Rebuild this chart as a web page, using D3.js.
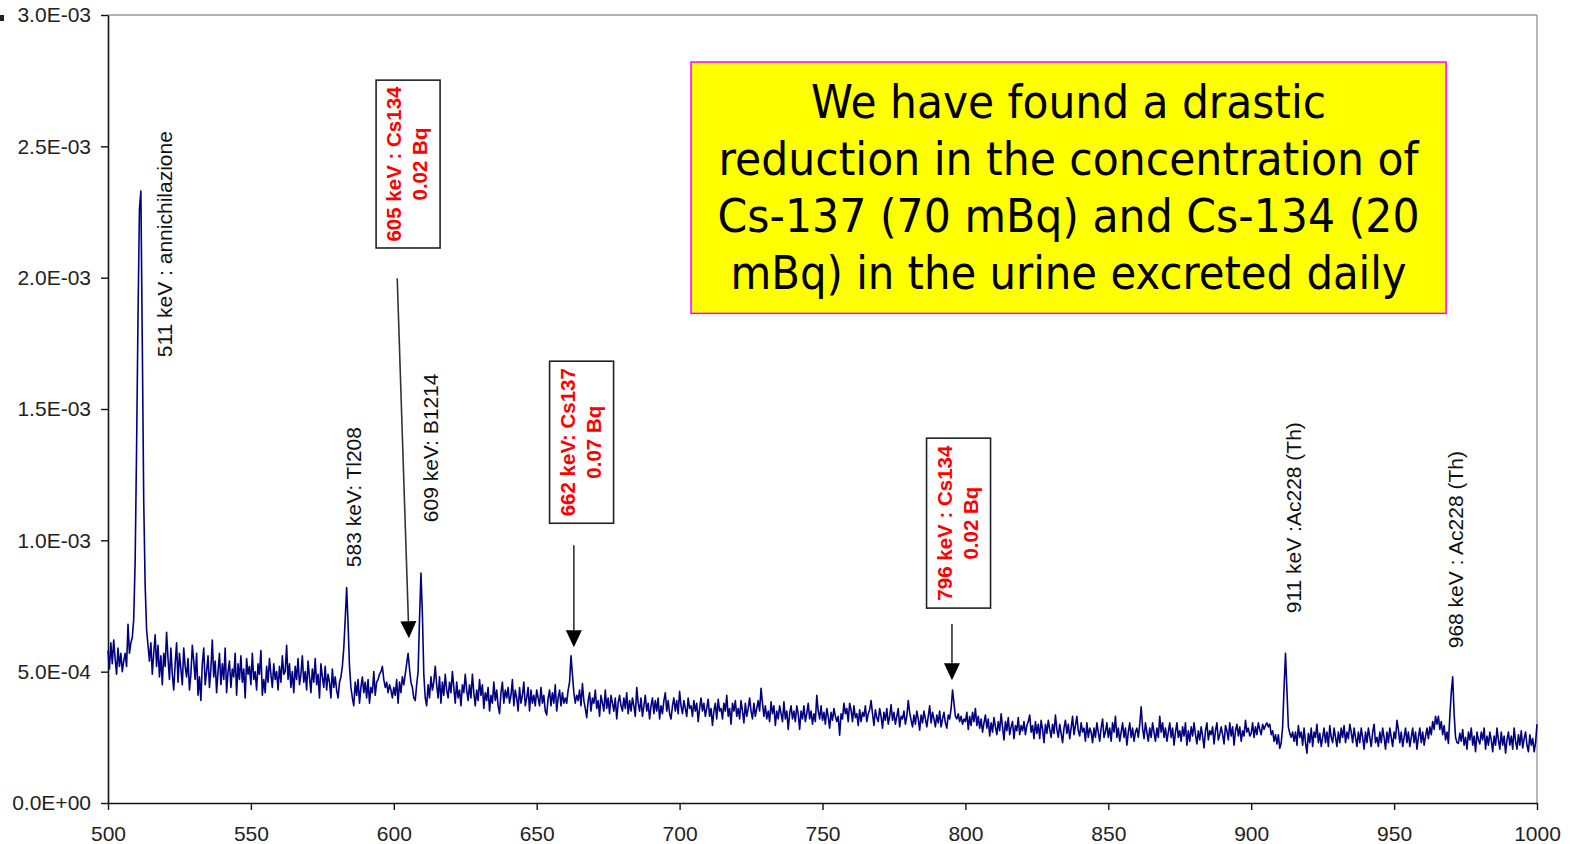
<!DOCTYPE html>
<html>
<head>
<meta charset="utf-8">
<script src="https://cdn.jsdelivr.net/npm/d3@7"></script>
<style>
  body { margin: 0; background: #fff; }
  svg { display: block; }
</style>
</head>
<body>
<div id="chart"></div>
<script>
// spectrum, one channel every 0.5 keV from 500 keV, values in units of 1e-4
// (each row holds 5 keV)
const startKeV = 500;
const stepKeV = 0.5;
const counts = [
  5.8, 5.1, 6.1, 5.3, 6.2, 5.5, 4.9, 5.9, 5.2, 5.7,
  5.0, 5.4, 5.7, 5.2, 6.8, 5.7, 6.1, 6.3, 7.0, 9.2,
  13.5, 18.5, 22.6, 23.3, 17.5, 11.5, 8.3, 6.6, 6.0, 5.4,
  6.1, 4.9, 5.7, 6.4, 5.2, 6.0, 4.8, 5.6, 4.5, 5.7,
  5.2, 6.5, 5.5, 4.7, 5.9, 4.9, 4.3, 5.3, 6.1, 4.6,
  5.7, 5.1, 4.5, 5.9, 5.2, 4.8, 5.5, 4.3, 4.9, 6.0,
  5.4, 4.7, 5.7, 4.1, 4.8, 3.9, 5.3, 5.9, 4.5, 5.0,
  5.6, 4.4, 5.1, 6.2, 4.8, 5.4, 4.2, 5.0, 5.7, 4.5,
  5.3, 4.7, 5.9, 4.2, 5.0, 5.4, 4.4, 5.1, 4.8, 5.7,
  4.1, 5.3, 4.7, 5.6, 4.6, 5.1, 4.0, 5.5, 4.9, 5.2,
  4.5, 5.7, 4.7, 5.0, 4.3, 5.3, 4.9, 5.8, 4.1, 4.7,
  4.2, 5.2, 4.6, 5.5, 4.9, 4.4, 5.3, 4.7, 5.0, 4.3,
  5.2, 4.6, 5.6, 4.9, 5.0, 6.0, 4.7, 5.3, 4.4, 5.0,
  4.2, 5.2, 4.7, 5.5, 4.5, 4.9, 5.6, 4.6, 5.0, 4.3,
  5.4, 4.8, 4.2, 5.1, 4.6, 5.5, 4.5, 4.9, 4.0, 5.3,
  4.8, 4.4, 5.2, 4.3, 4.9, 4.6, 4.0, 5.1, 4.4, 4.8,
  4.3, 4.0, 4.6, 4.8, 5.2, 5.9, 7.0, 8.2, 6.8, 5.2,
  4.4, 4.0, 3.7, 4.6, 4.1, 4.7, 3.8, 4.4, 4.8, 4.2,
  4.6, 4.0, 4.7, 3.8, 4.4, 4.2, 5.0, 4.1, 4.6, 4.7,
  4.9, 5.0, 5.2, 4.7, 4.4, 4.6, 4.2, 4.5, 4.3, 4.0,
  4.4, 4.1, 4.7, 3.8, 4.6, 4.2, 4.8, 4.5, 4.9, 5.3,
  5.7, 5.1, 4.6, 4.4, 4.0, 3.9, 4.5, 5.0, 7.0, 8.75,
  7.2, 4.9, 4.0, 3.7, 4.5, 4.0, 4.8, 4.3, 4.6, 5.2,
  4.5, 4.0, 4.8, 3.8, 4.6, 4.1, 4.9, 4.3, 4.0, 4.6,
  4.2, 5.0, 4.4, 3.8, 4.6, 4.0, 4.3, 3.7, 4.5, 4.2,
  4.9, 4.3, 3.9, 4.5, 4.0, 4.9, 4.2, 3.7, 4.3, 3.9,
  4.7, 4.1, 4.5, 3.6, 4.2, 3.9, 4.4, 3.5, 4.1, 3.8,
  4.6, 3.9, 4.3, 3.7, 3.4, 4.2, 4.6, 3.8, 4.3, 4.0,
  4.4, 3.8, 4.1, 4.7, 3.7, 4.3, 4.0, 3.5, 4.4, 3.8,
  4.1, 4.6, 3.7, 4.0, 4.4, 3.5, 4.3, 3.8, 4.1, 3.7,
  4.3, 4.0, 3.7, 4.4, 3.8, 4.1, 3.5, 3.35, 4.0, 4.3,
  3.7, 4.2, 3.8, 4.5, 3.5, 4.0, 4.3, 3.7, 4.2, 3.8,
  4.0, 3.8, 4.3, 4.6, 5.6, 4.9, 4.2, 3.8, 4.1, 3.9,
  4.3, 3.7, 4.55, 3.9, 3.6, 3.25, 3.9, 4.2, 3.5, 4.0,
  3.8, 4.3, 3.6, 3.9, 3.3, 4.1, 3.8, 3.5, 4.3, 3.6,
  4.0, 3.4, 4.1, 3.8, 3.5, 4.0, 3.2, 3.8, 4.1, 3.7,
  3.5, 4.0, 3.6, 4.2, 3.4, 3.9, 3.5, 4.0, 3.7, 3.3,
  4.4, 3.8, 3.5, 4.0, 3.3, 3.7, 4.1, 3.5, 3.8, 3.2,
  3.7, 4.0, 3.4, 3.9, 3.5, 4.0, 3.2, 3.7, 3.4, 3.9,
  4.2, 3.5, 3.9, 3.4, 3.2, 3.7, 4.0, 3.5, 3.9, 3.4,
  4.25, 3.7, 3.4, 3.9, 3.6, 3.3, 4.0, 3.6, 3.7, 3.3,
  3.9, 3.5, 3.8, 3.1, 3.6, 4.0, 3.5, 3.8, 3.3, 3.6,
  3.95, 3.3, 3.6, 2.95, 3.5, 3.8, 3.2, 3.95, 3.5, 3.6,
  3.2, 3.8, 3.5, 4.1, 3.3, 3.6, 3.0, 3.8, 3.5, 3.9,
  3.3, 3.6, 3.2, 3.9, 3.5, 3.05, 3.8, 3.3, 3.6, 4.0,
  3.5, 3.2, 3.8, 3.3, 3.6, 3.9, 3.5, 4.37, 3.8, 3.3,
  3.7, 3.2, 3.5, 3.1, 3.85, 3.4, 3.7, 2.95, 3.5, 3.2,
  3.7, 3.4, 3.1, 3.85, 3.2, 3.5, 2.8, 3.4, 3.7, 3.2,
  3.5, 3.1, 3.7, 3.4, 2.8, 3.5, 3.2, 3.7, 3.1, 3.4,
  3.8, 3.2, 3.5, 3.0, 3.4, 3.1, 4.1, 3.5, 3.2, 3.7,
  3.15, 3.45, 3.0, 3.6, 3.3, 2.85, 3.45, 3.15, 3.6, 3.3,
  3.1, 3.3, 2.58, 3.4, 3.2, 3.8, 3.4, 3.6, 3.1, 3.8,
  3.55, 3.1, 3.7, 3.25, 3.4, 2.95, 3.55, 3.1, 3.45, 3.3,
  3.7, 3.1, 3.4, 3.55, 3.9, 3.4, 2.95, 3.55, 3.25, 3.1,
  3.6, 3.3, 2.85, 3.45, 3.15, 3.6, 3.0, 3.3, 3.75, 3.15,
  3.45, 3.0, 3.3, 3.6, 2.9, 3.3, 3.2, 3.5, 3.0, 3.3,
  3.9, 3.45, 3.15, 2.9, 3.35, 3.0, 3.5, 3.2, 2.77, 3.35,
  3.05, 3.5, 3.2, 2.9, 3.3, 3.7, 3.05, 3.45, 3.2, 2.9,
  3.35, 3.05, 3.5, 2.9, 3.2, 3.45, 3.05, 2.85, 3.35, 3.2,
  3.6, 4.3, 3.8, 3.3, 3.2, 3.4, 3.1, 3.3, 3.0, 3.2,
  3.1, 3.45, 2.8, 3.3, 2.95, 3.45, 3.1, 3.6, 2.95, 3.3,
  2.85, 3.2, 2.7, 3.05, 3.35, 2.85, 3.2, 2.55, 3.05, 2.7,
  3.25, 2.9, 2.6, 3.1, 2.75, 3.4, 2.9, 2.4, 3.1, 2.75,
  3.25, 2.6, 2.9, 3.1, 2.45, 2.95, 2.75, 3.25, 2.6, 2.95,
  2.75, 3.1, 2.6, 2.95, 3.1, 3.35, 2.7, 2.95, 2.45, 3.1,
  2.65, 3.0, 2.45, 3.15, 2.8, 2.3, 3.0, 2.65, 3.15, 2.8,
  2.5, 3.0, 2.65, 3.35, 2.8, 2.5, 3.0, 2.65, 2.3, 2.85,
  3.15, 2.65, 3.0, 2.45, 2.85, 3.3, 2.6, 2.95, 3.3, 2.75,
  2.55, 3.05, 2.7, 2.85, 2.35, 3.05, 2.5, 2.85, 2.7, 2.3,
  2.85, 2.5, 3.05, 2.7, 2.35, 2.85, 3.2, 2.5, 2.7, 3.05,
  2.5, 2.85, 2.35, 3.05, 2.7, 3.3, 2.5, 2.85, 2.35, 2.7,
  3.05, 2.5, 2.85, 2.2, 2.7, 3.05, 2.5, 2.85, 2.35, 2.7,
  2.85, 2.5, 3.0, 3.66, 2.85, 2.45, 3.05, 2.7, 2.35, 2.85,
  2.5, 3.05, 2.7, 2.35, 2.85, 2.5, 3.3, 2.7, 3.05, 2.5,
  2.85, 2.35, 2.7, 3.05, 2.5, 2.85, 2.2, 2.7, 3.05, 2.5,
  2.75, 2.35, 2.9, 2.55, 3.05, 2.2, 2.75, 2.35, 2.9, 2.55,
  3.05, 2.6, 2.25, 2.75, 2.4, 2.9, 2.55, 2.1, 2.75, 3.05,
  2.4, 2.75, 2.6, 2.9, 2.25, 2.75, 3.05, 2.4, 2.6, 2.9,
  2.6, 2.25, 2.95, 2.75, 2.4, 3.05, 2.55, 2.9, 2.2, 2.75,
  3.0, 2.55, 2.9, 2.35, 2.75, 2.55, 3.15, 2.7, 2.85, 2.55,
  2.65, 3.05, 2.5, 2.9, 2.6, 3.05, 2.8, 2.6, 3.0, 2.8,
  2.95, 3.05, 2.9, 3.0, 2.6, 2.75, 2.35, 2.6, 2.25, 2.6,
  2.08, 2.3, 2.9, 4.4, 5.7, 4.3, 2.9, 2.65, 2.5, 2.7,
  2.35, 2.7, 2.2, 2.95, 2.5, 2.7, 2.2, 2.85, 2.3, 1.9,
  2.65, 2.3, 2.85, 2.15, 2.7, 2.5, 3.0, 2.3, 2.65, 2.15,
  2.5, 2.85, 2.3, 2.7, 2.15, 2.95, 2.5, 2.3, 2.85, 2.5,
  2.15, 2.7, 2.3, 2.85, 2.5, 2.95, 2.3, 2.7, 2.45, 3.0,
  2.7, 2.3, 2.85, 2.5, 2.15, 2.7, 2.3, 2.85, 2.5, 2.05,
  2.7, 2.3, 2.85, 2.5, 2.15, 2.7, 3.0, 2.3, 2.5, 2.15,
  2.7, 2.3, 2.85, 2.5, 2.05, 2.7, 2.3, 2.85, 2.5, 2.15,
  2.7, 2.45, 3.15, 2.8, 2.3, 2.7, 2.15, 2.5, 2.85, 2.3,
  2.7, 2.15, 2.5, 2.85, 2.3, 2.7, 2.05, 2.5, 2.85, 2.3,
  2.7, 2.2, 2.55, 2.85, 2.45, 2.9, 2.6, 3.1, 2.8, 3.3,
  3.0, 3.3, 2.8, 3.1, 2.6, 2.95, 2.4, 2.7, 2.27, 3.3,
  4.2, 4.8, 3.4, 2.5, 2.3, 2.27, 2.65, 2.35, 2.8, 2.2,
  2.5, 2.05, 2.7, 2.4, 2.85, 2.2, 2.55, 1.95, 2.7, 2.4,
  2.25, 2.7, 2.4, 2.85, 2.05, 2.55, 2.2, 2.7, 2.4, 1.95,
  2.55, 2.2, 2.85, 2.4, 2.05, 2.7, 2.2, 2.55, 1.9, 2.4,
  2.7, 2.2, 2.55, 2.05, 2.85, 2.35, 2.05, 2.6, 2.2, 2.75,
  2.1, 2.45, 2.7, 2.2, 1.95, 2.6, 2.2, 2.45, 1.95, 2.3,
  3.0
];
const countUnit = 1e-4;

const xTicks = [500, 550, 600, 650, 700, 750, 800, 850, 900, 950, 1000];
const yTicks = [0, 5e-4, 1e-3, 1.5e-3, 2e-3, 2.5e-3, 3e-3];

// peak labels (energy and value where the rotated text starts)
const peakLabels = [
  {text: '511 keV : annichilazione', e: 522.4, v: 1.697e-3},
  {text: '583 keV: Tl208', e: 588.5, v: 0.898e-3},
  {text: '609 keV: B1214', e: 615.5, v: 1.069e-3},
  {text: '911 keV :Ac228 (Th)', e: 917.4, v: 0.7225e-3},
  {text: '968 keV : Ac228 (Th)', e: 974.1, v: 0.589e-3}
];

// boxed caesium notes with arrows
const csNotes = [
  {line1: '605 keV : Cs134', line2: '0.02 Bq', e: 605.0, top: 2.752e-3, bottom: 2.113e-3,
   from: [601.2, 1.998e-3], to: [605.3, 0.627e-3]},
  {line1: '662 keV: Cs137', line2: '0.07 Bq', e: 665.7, top: 1.682e-3, bottom: 1.065e-3,
   from: [663.0, 0.981e-3], to: [663.0, 0.593e-3]},
  {line1: '796 keV : Cs134', line2: '0.02 Bq', e: 797.6, top: 1.389e-3, bottom: 0.742e-3,
   from: [795.3, 0.681e-3], to: [795.3, 0.467e-3]}
];

const noteLines = [
  'We have found a drastic',
  'reduction in the concentration of',
  'Cs-137 (70 mBq) and Cs-134 (20',
  'mBq) in the urine excreted daily'
];

const W = 1575, H = 844;
const plot = {left: 108, right: 1537, top: 15, bottom: 803};

const data = counts.map((c, i) => ({e: startKeV + i*stepKeV, v: c*countUnit}));

const svg = d3.select('#chart').append('svg')
    .attr('width', W)
    .attr('height', H);

svg.append('rect').attr('width', W).attr('height', H).attr('fill', '#fff');

const x = d3.scaleLinear().domain([500, 1000]).range([plot.left, plot.right]);
const y = d3.scaleLinear().domain([0, 3e-3]).range([plot.bottom, plot.top]);

const sci = v => {
    const [m, ex] = v.toExponential(1).split('e');
    const sign = ex[0] === '-' ? '-' : '+';
    const digits = ex.replace(/[+-]/, '').padStart(2, '0');
    return `${m}E${sign}${digits}`;
};

// frame: top and right in grey
svg.append('line')
    .attr('x1', plot.left).attr('x2', plot.right)
    .attr('y1', plot.top).attr('y2', plot.top)
    .attr('stroke', '#9a9a9a').attr('stroke-width', 1.4);
svg.append('line')
    .attr('x1', plot.right).attr('x2', plot.right)
    .attr('y1', plot.top).attr('y2', plot.bottom)
    .attr('stroke', '#9a9a9a').attr('stroke-width', 1.4);

// little mark at the top-left corner
svg.append('rect').attr('x', 0).attr('y', 15).attr('width', 4).attr('height', 6).attr('fill', '#222');

const yAxis = svg.append('g')
    .attr('transform', `translate(${plot.left},0)`)
    .call(d3.axisLeft(y).tickValues(yTicks).tickFormat(sci).tickSize(7).tickSizeOuter(0).tickPadding(10));

const xAxis = svg.append('g')
    .attr('transform', `translate(0,${plot.bottom})`)
    .call(d3.axisBottom(x).tickValues(xTicks).tickFormat(d3.format('d')).tickSize(7).tickSizeOuter(0).tickPadding(16));

[yAxis, xAxis].forEach(g => {
    g.select('.domain').attr('stroke', '#111').attr('stroke-width', 1.6);
    g.selectAll('.tick line').attr('stroke', '#111').attr('stroke-width', 1.4);
    g.selectAll('.tick text')
        .attr('fill', '#222')
        .style('font-family', '"Liberation Sans", Arial, sans-serif')
        .style('font-size', '21px');
});

// spectrum
const line = d3.line().x(d => x(d.e)).y(d => y(d.v));
svg.append('path')
    .datum(data)
    .attr('d', line)
    .attr('fill', 'none')
    .attr('stroke', '#000080')
    .attr('stroke-width', 1.6)
    .attr('stroke-linejoin', 'round');

// peak labels
svg.selectAll('.peak-label')
    .data(peakLabels)
    .enter()
    .append('text')
    .attr('class', 'peak-label')
    .attr('transform', d => `translate(${x(d.e)},${y(d.v)}) rotate(-90)`)
    .attr('fill', '#111')
    .style('font-family', '"Liberation Sans", Arial, sans-serif')
    .style('font-size', '21px')
    .text(d => d.text);

// caesium notes
const notes = svg.selectAll('.cs-note')
    .data(csNotes)
    .enter()
    .append('g')
    .attr('class', 'cs-note');

const boxW = 64;
notes.append('rect')
    .attr('x', d => x(d.e) - boxW/2)
    .attr('y', d => y(d.top))
    .attr('width', boxW)
    .attr('height', d => y(d.bottom) - y(d.top))
    .attr('fill', '#fff')
    .attr('stroke', '#222')
    .attr('stroke-width', 1.6);

[['line1', 25], ['line2', 51]].forEach(([key, off]) => {
    notes.append('text')
        .attr('transform', d => `translate(${x(d.e) - boxW/2 + off},${(y(d.top) + y(d.bottom))/2}) rotate(-90)`)
        .attr('text-anchor', 'middle')
        .attr('fill', '#ff0000')
        .style('font-family', '"Liberation Sans", Arial, sans-serif')
        .style('font-size', '20.5px')
        .style('font-weight', 'bold')
        .text(d => d[key]);
});

const headLen = 17, headHalf = 8;
notes.each(function(d){
    const g = d3.select(this);
    const x0 = x(d.from[0]), y0 = y(d.from[1]);
    const x1 = x(d.to[0]), y1 = y(d.to[1]);
    const len = Math.hypot(x1 - x0, y1 - y0);
    const ux = (x1 - x0)/len, uy = (y1 - y0)/len;
    const bx = x1 - ux*headLen, by = y1 - uy*headLen;
    g.append('line')
        .attr('x1', x0).attr('y1', y0)
        .attr('x2', bx).attr('y2', by)
        .attr('stroke', '#333')
        .attr('stroke-width', 1.6);
    g.append('path')
        .attr('d', `M${x1},${y1}L${bx - uy*headHalf},${by + ux*headHalf}L${bx + uy*headHalf},${by - ux*headHalf}Z`)
        .attr('fill', '#000');
});

// yellow note
const noteBox = {e0: 704.0, e1: 968.2, top: 2.821e-3, bottom: 1.864e-3};
const lineWidths = [515, 700, 702, 676];
svg.append('rect')
    .attr('x', x(noteBox.e0))
    .attr('y', y(noteBox.top))
    .attr('width', x(noteBox.e1) - x(noteBox.e0))
    .attr('height', y(noteBox.bottom) - y(noteBox.top))
    .attr('fill', '#ffff00')
    .attr('stroke', '#ff00ff')
    .attr('stroke-width', 1.5);

const noteCx = (x(noteBox.e0) + x(noteBox.e1))/2;
svg.selectAll('.note-line')
    .data(noteLines)
    .enter()
    .append('text')
    .attr('class', 'note-line')
    .attr('x', noteCx)
    .attr('y', (d, i) => y(noteBox.top) + 56 + i*57)
    .attr('text-anchor', 'middle')
    .attr('textLength', (d, i) => lineWidths[i])
    .attr('lengthAdjust', 'spacingAndGlyphs')
    .attr('fill', '#000')
    .style('font-family', 'Tahoma, "DejaVu Sans", sans-serif')
    .style('font-size', '47px')
    .text(d => d);
</script>
</body>
</html>
